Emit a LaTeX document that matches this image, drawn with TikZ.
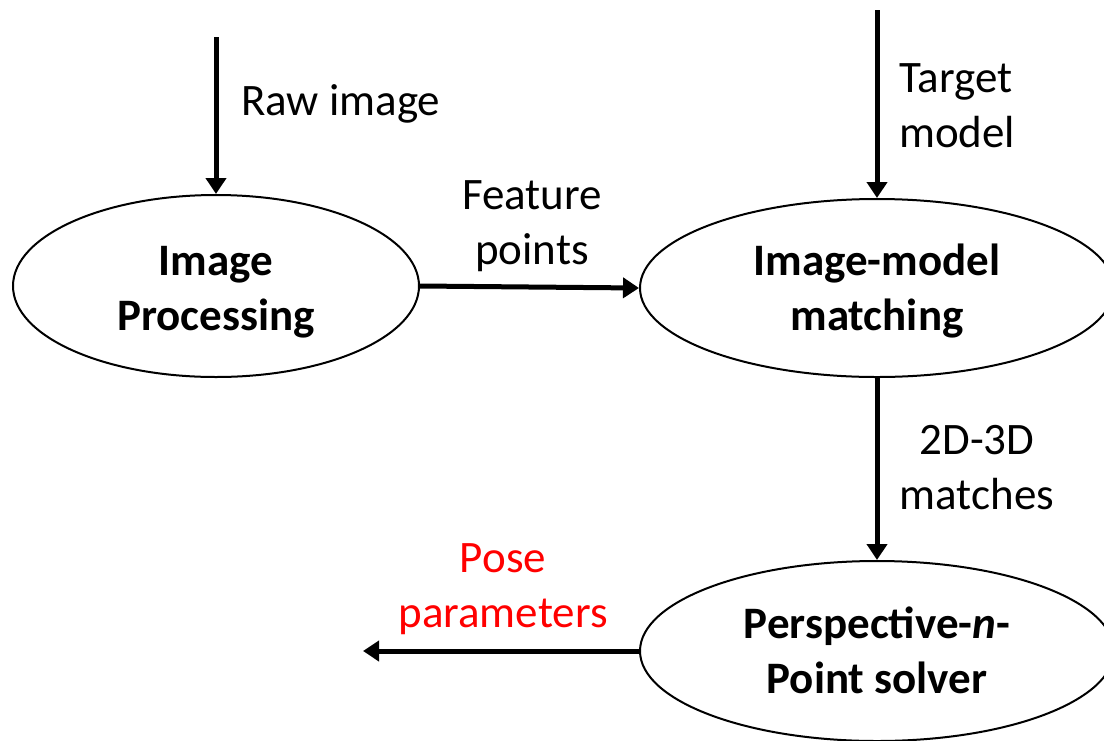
\documentclass[tikz,border=0pt]{standalone}
\usepackage{fontspec}
\setmainfont{Carlito}
\usetikzlibrary{shapes.geometric,arrows.meta}
\tikzset{
  stage/.style={ellipse, draw, line width=2pt, minimum width=406pt, minimum height=182pt,
    inner sep=0pt},
  stagetext/.style={align=center, inner sep=0pt, font=\fontsize{45}{55}\selectfont\bfseries},
  flow/.style={line width=5pt, -{Triangle[width=20pt,length=16pt]}},
  lbl/.style={align=center, inner sep=0pt, font=\fontsize{45}{55}\selectfont},
}
\begin{document}
\begin{tikzpicture}[x=1pt, y=-1pt]
  \useasboundingbox (0,0) rectangle (1104,740);
  \clip (0,0) rectangle (1104,740);
  \fill[white] (0,0) rectangle (1104,740);

  % processing stages
  \node[stage] (ip) at (216,286) {};
  \node[stage, minimum width=474pt, minimum height=178pt] (imm) at (877,288) {};
  \node[stage, minimum width=474pt, minimum height=180pt] (pnp) at (877,651) {};
  \node[stagetext] (iptext) at ([yshift=-6pt]ip.center) {Image\\Processing};
  \node[stagetext] (immtext) at ([yshift=-3pt]imm.center) {Image-model\\matching};
  \node[stagetext] (pnptext) at ([yshift=1pt]pnp.center) {Perspective-\textit{n}-\\Point solver};

  % free ends of the input and output arrows
  \coordinate (rawin) at (216,37);
  \coordinate (tgtin) at (877,10);
  \coordinate (poseout) at (363,651);

  % data flow
  \draw[flow] (rawin) -- (ip.north);
  \draw[flow] (tgtin) -- (imm.north);
  \draw[flow] (ip.east) -- (imm.west);
  \draw[flow] (imm.south) -- (pnp.north);
  \draw[flow] (pnp.west) -- (poseout);

  % labels
  \node[lbl, anchor=base west] (lraw) at (241,115) {Raw image};
  \node[lbl, align=left, anchor=west] (ltgt) at (899,106) {Target\\model};
  \node[lbl] (lfeat) at (532,226) {Feature\\points};
  \node[lbl] (lmatch) at (977,468) {2D-3D\\matches};
  \node[lbl, text=red] (lpose) at (503,589) {Pose\\parameters};
\end{tikzpicture}
\end{document}
